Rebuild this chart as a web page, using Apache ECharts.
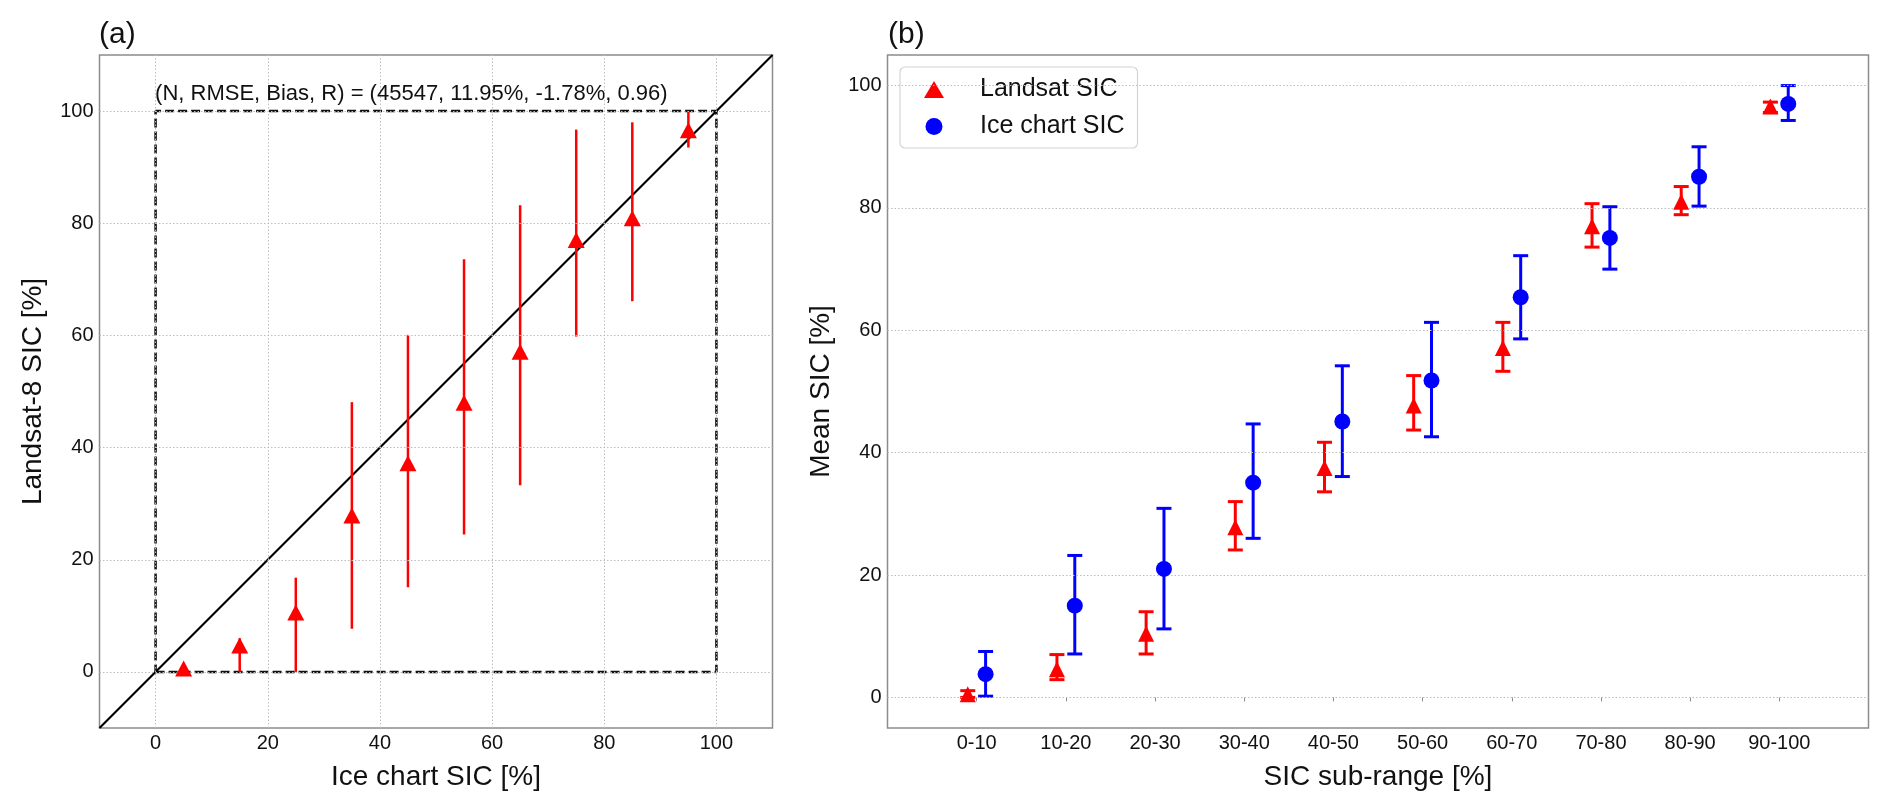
<!DOCTYPE html>
<html><head><meta charset="utf-8">
<script src="https://cdn.jsdelivr.net/npm/echarts@6/dist/echarts.min.js"></script>
<style>html,body{margin:0;padding:0;background:#fff}#c{width:1892px;height:811px}</style>
</head><body><div id="c"></div>
<script>
// ---------- Panel (a) data ----------
const panelATicks = [0, 20, 40, 60, 80, 100];
const iceChartBins = [5, 15, 25, 35, 45, 55, 65, 75, 85, 95];
const landsatMeanA = [0.6, 4.7, 10.6, 27.9, 37.2, 48.0, 57.1, 77.0, 80.9, 96.6];
const landsatLowA  = [0.0, 0.0, 0.0, 7.7, 15.1, 24.5, 33.3, 59.8, 66.1, 93.5];
const landsatHighA = [1.0, 6.0, 16.8, 48.1, 60.1, 73.6, 83.2, 96.7, 98.0, 100.0];
const identityLine = [[-10, -10], [110, 110]];
const boxCorners = [[0, 0], [100, 0], [100, 100], [0, 100], [0, 0]];
const statsText = '(N, RMSE, Bias, R) = (45547, 11.95%, -1.78%, 0.96)';

// ---------- Panel (b) data ----------
const subRanges = ['0-10', '10-20', '20-30', '30-40', '40-50', '50-60', '60-70', '70-80', '80-90', '90-100'];
const panelBTicks = [0, 20, 40, 60, 80, 100];
const landsatMeanB = [0.5, 4.6, 10.4, 27.8, 37.5, 47.7, 57.1, 77.0, 81.0, 96.6];
const landsatLowB  = [0.0, 2.9, 7.1, 24.1, 33.6, 43.7, 53.3, 73.6, 78.9, 95.6];
const landsatHighB = [1.1, 7.0, 14.0, 32.0, 41.7, 52.6, 61.3, 80.7, 83.5, 97.3];
const iceMeanB = [3.8, 15.0, 21.0, 35.1, 45.1, 51.8, 65.4, 75.1, 85.1, 97.0];
const iceLowB  = [0.2, 7.1, 11.2, 26.0, 36.1, 42.6, 58.6, 70.0, 80.3, 94.3];
const iceHighB = [7.5, 23.2, 30.9, 44.7, 54.2, 61.3, 72.2, 80.2, 90.0, 100.0];

const FONT = "'Liberation Sans', Arial, sans-serif";
const TXT = '#111';
const RED = '#ff0000', BLUE = '#0000ff';
const GRIDC = '#bdbdbd';
const binIdx = subRanges.map((_, i) => i);
const OFF = 0.1;

function errRender(color, lw, capHalf) {
  return function (params, api) {
    const x = api.value(0), lo = api.value(1), hi = api.value(2);
    const p1 = api.coord([x, lo]), p2 = api.coord([x, hi]);
    const st = { stroke: color, lineWidth: lw };
    const ch = [{ type: 'line', shape: { x1: p1[0], y1: p1[1], x2: p2[0], y2: p2[1] }, style: st }];
    if (capHalf) {
      ch.push({ type: 'line', shape: { x1: p1[0] - capHalf, y1: p1[1], x2: p1[0] + capHalf, y2: p1[1] }, style: st });
      ch.push({ type: 'line', shape: { x1: p2[0] - capHalf, y1: p2[1], x2: p2[0] + capHalf, y2: p2[1] }, style: st });
    }
    return { type: 'group', children: ch };
  };
}

const gridLineStyle = { type: [1.5, 2], color: GRIDC, width: 1 };
function gridMarks(xs, ys) {
  const d = [];
  xs.forEach(v => d.push({ xAxis: v }));
  ys.forEach(v => d.push({ yAxis: v }));
  return { silent: true, symbol: ['none', 'none'], label: { show: false }, lineStyle: gridLineStyle, animation: false, data: d };
}

const axisLabelStyle = { color: TXT, fontSize: 20, fontFamily: FONT };
const nameStyle = { color: TXT, fontSize: 28, fontFamily: FONT };

const option = {
  animation: false,
  backgroundColor: '#fff',
  title: [
    { text: '(a)', left: 99, top: 20, padding: 0, textStyle: { color: TXT, fontSize: 30, fontWeight: 'normal', fontFamily: FONT } },
    { text: '(b)', left: 888, top: 20, padding: 0, textStyle: { color: TXT, fontSize: 30, fontWeight: 'normal', fontFamily: FONT } }
  ],
  grid: [
    { left: 99.5, top: 55, width: 673, height: 673, show: true, borderColor: '#8c8c8c', borderWidth: 1.5, backgroundColor: 'transparent' },
    { left: 887.5, top: 55, width: 981, height: 673, show: true, borderColor: '#8c8c8c', borderWidth: 1.5, backgroundColor: 'transparent' }
  ],
  legend: {
    left: 900, top: 67, orient: 'vertical',
    data: ['Landsat SIC', 'Ice chart SIC'],
    backgroundColor: '#fff', borderColor: '#d4d4d4', borderWidth: 1.2, borderRadius: 5,
    padding: [8, 13, 7, 24], itemGap: 8, itemWidth: 20, itemHeight: 17,
    textStyle: { color: TXT, fontSize: 25, fontFamily: FONT, lineHeight: 29, padding: [0, 0, 0, 31] }
  },
  xAxis: [
    {
      type: 'value', gridIndex: 0, min: -10, max: 110,
      name: 'Ice chart SIC [%]', nameLocation: 'middle', nameGap: 35, nameTextStyle: nameStyle,
      axisLine: { show: false }, axisTick: { show: false }, splitLine: { show: false },
      axisLabel: Object.assign({ margin: 5, customValues: panelATicks }, axisLabelStyle)
    },
    {
      type: 'value', gridIndex: 1, min: -1, max: 10,
      name: 'SIC sub-range [%]', nameLocation: 'middle', nameGap: 35, nameTextStyle: nameStyle,
      axisLine: { show: false }, splitLine: { show: false },
      axisTick: { show: true, length: 4, lineStyle: { color: '#8c8c8c', width: 1 }, customValues: binIdx },
      axisLabel: Object.assign({ margin: 5, customValues: binIdx, formatter: v => subRanges[Math.round(v)] || '' }, axisLabelStyle)
    }
  ],
  yAxis: [
    {
      type: 'value', gridIndex: 0, min: -10, max: 110,
      name: 'Landsat-8 SIC [%]', nameLocation: 'middle', nameGap: 52, nameTextStyle: nameStyle,
      axisLine: { show: false }, axisTick: { show: false }, splitLine: { show: false },
      axisLabel: Object.assign({ margin: 6, customValues: panelATicks }, axisLabelStyle)
    },
    {
      type: 'value', gridIndex: 1, min: -5, max: 105,
      name: 'Mean SIC [%]', nameLocation: 'middle', nameGap: 52, nameTextStyle: nameStyle,
      axisLine: { show: false }, axisTick: { show: false }, splitLine: { show: false },
      axisLabel: Object.assign({ margin: 6, customValues: panelBTicks }, axisLabelStyle)
    }
  ],
  series: [
    // ----- panel (a) -----
    {
      name: 'gridA', type: 'scatter', xAxisIndex: 0, yAxisIndex: 0, z: 0,
      symbolSize: 0, data: [[-10, -10]], silent: true,
      markLine: gridMarks(panelATicks, panelATicks)
    },
    {
      name: 'box', type: 'line', xAxisIndex: 0, yAxisIndex: 0, z: 2,
      data: boxCorners, showSymbol: false, symbol: 'none',
      lineStyle: { color: '#111', width: 2.5, type: [9, 4] }
    },
    {
      name: 'identity', type: 'line', xAxisIndex: 0, yAxisIndex: 0, z: 3,
      data: identityLine, showSymbol: false, symbol: 'none',
      lineStyle: { color: '#000', width: 2.2 }
    },
    {
      name: 'errA', type: 'custom', xAxisIndex: 0, yAxisIndex: 0, z: 4,
      renderItem: errRender(RED, 2.5, 0),
      encode: { x: 0, y: [1, 2] },
      data: iceChartBins.map((x, i) => [x, landsatLowA[i], landsatHighA[i]])
    },
    {
      name: 'Landsat SIC (a)', type: 'scatter', xAxisIndex: 0, yAxisIndex: 0, z: 5,
      symbol: 'triangle', symbolSize: [17, 16],
      itemStyle: { color: RED, opacity: 1 },
      data: iceChartBins.map((x, i) => [x, landsatMeanA[i]])
    },
    {
      name: 'stats', type: 'scatter', xAxisIndex: 0, yAxisIndex: 0, z: 6,
      symbolSize: 1, itemStyle: { color: 'transparent' }, silent: true,
      data: [[0, 100]],
      label: { show: true, formatter: statsText, position: [0, -6], align: 'left', verticalAlign: 'bottom', color: TXT, fontSize: 22, fontFamily: FONT, opacity: 1 }
    },
    // ----- panel (b) -----
    {
      name: 'gridB', type: 'scatter', xAxisIndex: 1, yAxisIndex: 1, z: 0,
      symbolSize: 0, data: [[-1, -5]], silent: true,
      markLine: gridMarks([], panelBTicks)
    },
    {
      name: 'errLandsatB', type: 'custom', xAxisIndex: 1, yAxisIndex: 1, z: 4,
      renderItem: errRender(RED, 3, 7.5),
      encode: { x: 0, y: [1, 2] },
      data: binIdx.map(i => [i - OFF, landsatLowB[i], landsatHighB[i]])
    },
    {
      name: 'errIceB', type: 'custom', xAxisIndex: 1, yAxisIndex: 1, z: 4,
      renderItem: errRender(BLUE, 3, 7.5),
      encode: { x: 0, y: [1, 2] },
      data: binIdx.map(i => [i + OFF, iceLowB[i], iceHighB[i]])
    },
    {
      name: 'Landsat SIC', type: 'scatter', xAxisIndex: 1, yAxisIndex: 1, z: 5,
      symbol: 'triangle', symbolSize: [16, 16],
      itemStyle: { color: RED, opacity: 1 },
      data: binIdx.map(i => [i - OFF, landsatMeanB[i]])
    },
    {
      name: 'Ice chart SIC', type: 'scatter', xAxisIndex: 1, yAxisIndex: 1, z: 5,
      symbol: 'circle', symbolSize: 16,
      itemStyle: { color: BLUE, opacity: 1 },
      data: binIdx.map(i => [i + OFF, iceMeanB[i]])
    }
  ]
};

const chart = echarts.init(document.getElementById('c'), null, { renderer: 'canvas' });
chart.setOption(option);
</script>
</body></html>
